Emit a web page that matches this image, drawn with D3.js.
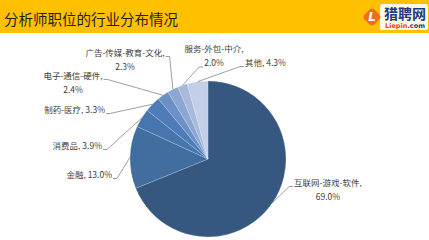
<!DOCTYPE html>
<html>
<head>
<meta charset="utf-8">
<script src="https://cdn.jsdelivr.net/npm/d3@7"></script>
<style>
  body { margin: 0; background: #fff; }
  svg { display: block; font-family: "Noto Sans CJK SC", "Noto Sans", sans-serif; }
</style>
</head>
<body>
<svg width="429" height="240"></svg>
<script>
// data
const title = "分析师职位的行业分布情况"
const categories = ["互联网-游戏-软件", "金融", "消费品", "制药-医疗", "电子-通信-硬件", "广告-传媒-教育-文化", "服务-外包-中介", "其他"]
const shares = [69.0, 13.0, 3.9, 3.3, 2.4, 2.3, 2.0, 4.3]
const twoLine = [true, false, false, false, true, true, true, false]

// styles / layout
const sliceColors = ["#365880", "#416d9f", "#4776af", "#4d7cb8", "#6b8fc6", "#8da7d3", "#a8badc", "#c3cfe6"]
// label placement relative to pie centre (first line centre), how the leader attaches
const labelLayout = [
  {dx: 120, dy: 24, align: "middle", attach: "l1"},
  {dx: -96, dy: 16, align: "end", attach: "r1"},
  {dx: -106, dy: -13, align: "end", attach: "r1"},
  {dx: -103, dy: -49, align: "end", attach: "r1"},
  {dx: -135, dy: -83, align: "middle", attach: "r1"},
  {dx: -83, dy: -106, align: "middle", attach: "r1"},
  {dx: 6, dy: -110, align: "middle", attach: "l2"},
  {dx: 37, dy: -96, align: "start", attach: "l1"}
]

const svg = d3.select("svg")
const W = +svg.attr("width")

// header
svg.append("rect").attr("width", W).attr("height", 33).attr("fill", "#ffc000")
svg.append("text")
  .attr("x", 4).attr("y", 20).attr("dy", "0.35em")
  .attr("font-size", 14.5).attr("fill", "#1f1f1f")
  .text(title)

// logo
const logo = svg.append("g").attr("class", "logo")
logo.append("rect").attr("x", 380).attr("y", 4).attr("width", 48).attr("height", 26).attr("rx", 2).attr("fill", "#fff8e6")
logo.append("rect")
  .attr("x", -7).attr("y", -7).attr("width", 14).attr("height", 14).attr("rx", 4)
  .attr("transform", "translate(372,17) rotate(45)")
  .attr("fill", "#f26b1d")
logo.append("text").attr("x", 372).attr("y", 17).attr("dy", "0.36em")
  .attr("text-anchor", "middle").attr("font-size", 12).attr("font-weight", "bold")
  .attr("font-style", "italic").attr("fill", "#fff").attr("font-family", "DejaVu Sans")
  .text("L")
logo.append("text").attr("x", 405).attr("y", 14).attr("dy", "0.35em")
  .attr("text-anchor", "middle").attr("font-size", 14).attr("font-weight", "bold")
  .attr("fill", "#1d3a7c").text("猎聘网")
const dom = logo.append("text").attr("x", 405).attr("y", 25.5).attr("dy", "0.35em")
  .attr("text-anchor", "middle").attr("font-size", 6.5).attr("font-weight", "bold")
  .attr("font-family", "DejaVu Sans")
dom.append("tspan").attr("fill", "#e8401c").text("Liepin")
dom.append("tspan").attr("fill", "#1d3a7c").text(".com")

// pie
const cx = 208, cy = 159, r = 78
const g = svg.append("g").attr("transform", "translate(" + cx + "," + cy + ")")

const data = categories.map((c, i) => ({name: c, value: shares[i], i}))
const pie = d3.pie().value(d => d.value).sort(null)
const arcs = pie(data)
const arc = d3.arc().innerRadius(0).outerRadius(r)
const edgeArc = d3.arc().innerRadius(r).outerRadius(r)
const color = d3.scaleOrdinal().domain(categories).range(sliceColors)

g.selectAll("path.slice")
  .data(arcs)
  .enter().append("path")
  .attr("class", "slice")
  .attr("d", arc)
  .attr("fill", d => color(d.data.name))
  .attr("stroke", "#ffffff")
  .attr("stroke-opacity", 0.35)
  .attr("stroke-width", 0.5)

// labels
const lineGap = 14.5
const labels = g.append("g").attr("class", "labels")
  .attr("font-size", 8.5).attr("fill", "#404040")

arcs.forEach((d, i) => {
  const L = labelLayout[i]
  const pct = d3.format(".1f")(d.data.value) + "%"
  const lines = twoLine[i] ? [d.data.name + ",", pct] : [d.data.name + ", " + pct]
  const nodes = lines.map((t, k) => labels.append("text")
    .attr("x", L.dx).attr("y", L.dy + k * lineGap).attr("dy", "0.35em")
    .attr("text-anchor", L.align)
    .text(t))

  const k = L.attach === "l2" ? 1 : 0
  const w = nodes[k].node().getComputedTextLength()
  const left = L.align === "start" ? L.dx : L.align === "end" ? L.dx - w : L.dx - w / 2
  const right = left + w
  const yy = L.dy + k * lineGap + 3.5
  const edge = edgeArc.centroid(d)
  let end, elbow
  if (L.attach === "r1") {
    end = [right + 1, yy]
    elbow = [right + 5, yy]
  } else {
    end = [left - 1, yy]
    elbow = [left - 5, yy]
  }
  labels.append("path")
    .attr("d", d3.line()([end, elbow, edge]))
    .attr("fill", "none")
    .attr("stroke", "#7f7f7f")
    .attr("stroke-width", 0.75)
})
</script>
</body>
</html>
